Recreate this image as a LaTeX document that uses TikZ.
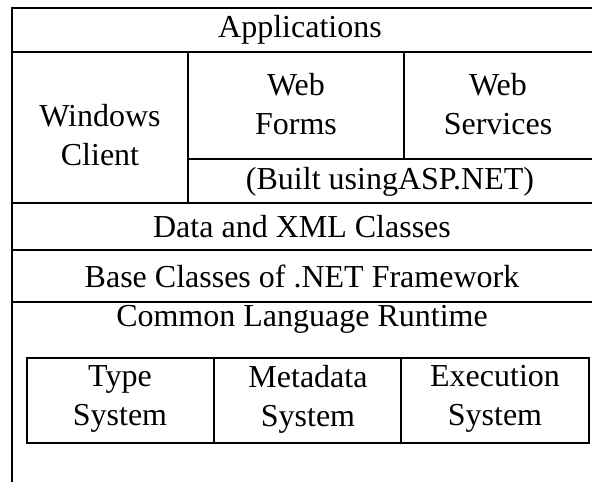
\documentclass[tikz,border=0pt]{standalone}
\usepackage{fontspec}
\setmainfont{Liberation Serif}

\begin{document}
\begin{tikzpicture}[x=0.5pt,y=-0.5pt,line width=1.2pt,
	nodes={align=center,inner sep=0pt,font=\fontsize{16}{19.5}\selectfont}]
	\useasboundingbox (0,0) rectangle (592,482);
	% frame and rows
	\draw (592,8) -- (12,8) -- (12,482);
	\draw (12,52) -- (592,52);
	\draw (188,52) -- (188,203);
	\draw (404,52) -- (404,159);
	\draw (188,159) -- (592,159);
	\draw (12,203) -- (592,203);
	\draw (12,250) -- (592,250);
	\draw (12,302) -- (592,302);
	% runtime parts
	\draw (27,358) rectangle (589,443);
	\draw (214,358) -- (214,443);
	\draw (401,358) -- (401,443);
	\node (apps) at (300,30) {Applications};
	\node (win) at (100,135) {Windows\\Client};
	\node (forms) at (296,104) {Web\\Forms};
	\node (serv) at (498,104) {Web\\Services};
	\node (built) at (390,182) {(Built usingASP.NET)};
	\node (data) at (302,227) {Data and XML Classes};
	\node (base) at (302,276) {Base Classes of .NET Framework};
	\node (clr) at (302,319) {Common Language Runtime};
	\node (type) at (120,399) {Type\\System};
	\node (meta) at (308,399) {Metadata\\System};
	\node (exec) at (495,399) {Execution\\System};
\end{tikzpicture}
\end{document}
